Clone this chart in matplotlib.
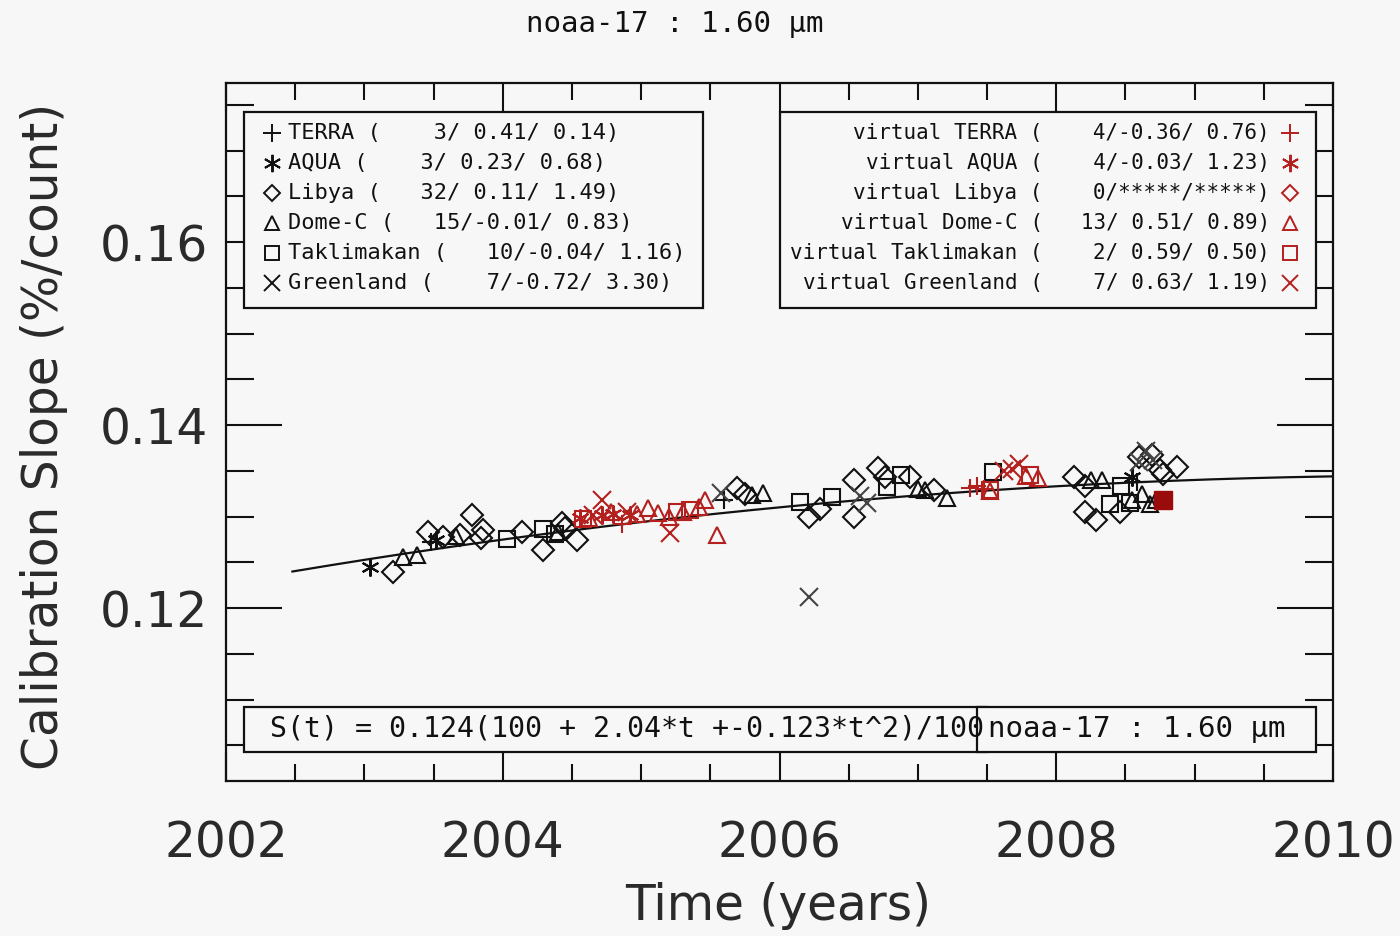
import numpy as np
import matplotlib
matplotlib.use('Agg')
import matplotlib.pyplot as plt
from matplotlib.patches import Rectangle
from matplotlib.ticker import MultipleLocator, FixedLocator

# ---------------- data ----------------
title_text = "noaa-17 : 1.60 \u00b5m"
eq_text = "S(t) = 0.124(100 + 2.04*t +-0.123*t^2)/100"
fit_scale = 0.124
fit_coef = [100.0, 2.04, -0.123]
fit_epoch = 2002.48
fit_end = 2010.0

x_ticks = [2002, 2004, 2006, 2008, 2010]
y_ticks = [0.12, 0.14, 0.16]
y_tick_labels = ["0.12", "0.14", "0.16"]

site_names = ["TERRA", "AQUA", "Libya", "Dome-C", "Taklimakan", "Greenland"]
site_stats = ["    3/ 0.41/ 0.14)", "    3/ 0.23/ 0.68)", "   32/ 0.11/ 1.49)",
              "   15/-0.01/ 0.83)", "   10/-0.04/ 1.16)", "    7/-0.72/ 3.30)"]
virt_stats = ["    4/-0.36/ 0.76)", "    4/-0.03/ 1.23)", "    0/*****/*****)",
              "   13/ 0.51/ 0.89)", "    2/ 0.59/ 0.50)", "    7/ 0.63/ 1.19)"]

terra_x = [2003.48, 2005.60, 2008.58]
terra_y = [0.1272, 0.1318, 0.1338]
aqua_x = [2003.04, 2003.52, 2008.55]
aqua_y = [0.1245, 0.1274, 0.1343]
libya_x = [2003.21, 2003.46, 2003.57, 2003.69, 2003.78, 2003.84, 2003.86, 2004.14,
           2004.29, 2004.43, 2004.45, 2004.54, 2005.69, 2005.75, 2006.21, 2006.29,
           2006.54, 2006.54, 2006.71, 2006.76, 2006.94, 2007.12, 2008.13, 2008.21,
           2008.21, 2008.29, 2008.46, 2008.60, 2008.69, 2008.75, 2008.77, 2008.87]
libya_y = [0.1239, 0.1283, 0.1278, 0.1280, 0.1302, 0.1277, 0.1285, 0.1283,
           0.1263, 0.1293, 0.1288, 0.1274, 0.1331, 0.1325, 0.1300, 0.1308,
           0.1340, 0.1300, 0.1353, 0.1343, 0.1343, 0.1329, 0.1343, 0.1334,
           0.1305, 0.1296, 0.1305, 0.1365, 0.1367, 0.1351, 0.1347, 0.1354]
domec_x = [2003.28, 2003.38, 2003.66, 2004.40, 2005.80, 2005.88, 2007.00, 2007.05,
           2007.21, 2008.25, 2008.33, 2008.55, 2008.62, 2008.68, 2008.72]
domec_y = [0.1256, 0.1258, 0.1279, 0.1283, 0.1324, 0.1326, 0.1330, 0.1329,
           0.1320, 0.1340, 0.1340, 0.1318, 0.1325, 0.1314, 0.1318]
takl_x = [2004.03, 2004.29, 2004.38, 2006.15, 2006.38, 2006.78, 2006.88, 2007.54,
          2008.39, 2008.47, 2008.53]
takl_y = [0.1276, 0.1286, 0.1281, 0.1316, 0.1321, 0.1332, 0.1346, 0.1349,
          0.1314, 0.1334, 0.1315]
green_x = [2005.58, 2006.21, 2006.58, 2006.63, 2008.60, 2008.65, 2008.70]
green_y = [0.1326, 0.1212, 0.1322, 0.1315, 0.1360, 0.1372, 0.1362]

vterra_x = [2004.86, 2007.38, 2007.43, 2007.48]
vterra_y = [0.1292, 0.1331, 0.1333, 0.1330]
vaqua_x = [2004.56, 2004.72, 2004.80, 2004.92]
vaqua_y = [0.1298, 0.1302, 0.1303, 0.1302]
vdome_x = [2004.62, 2004.78, 2004.97, 2005.05, 2005.12, 2005.20, 2005.30, 2005.42,
           2005.46, 2005.55, 2007.52, 2007.78, 2007.87]
vdome_y = [0.1298, 0.1305, 0.1303, 0.1309, 0.1304, 0.1300, 0.1305, 0.1310,
           0.1318, 0.1280, 0.1328, 0.1344, 0.1342]
vtakl_x = [2004.58, 2005.26, 2005.35, 2007.52, 2007.81]
vtakl_y = [0.1297, 0.1305, 0.1307, 0.1329, 0.1345]
vgreen_x = [2004.65, 2004.72, 2005.21, 2007.68, 2007.73, 2004.90, 2007.62]
vgreen_y = [0.1302, 0.1318, 0.1282, 0.1352, 0.1358, 0.1305, 0.1350]
latest_x = [2008.77]
latest_y = [0.1318]

# ---------------- style ----------------
W, H = 1400, 936
BG = '#f7f7f7'
RED = '#b3201e'
DARK = '#9a0c0c'
BLACK = '#111111'
GREY = '#444444'
MONO = 'DejaVu Sans Mono'

mk = {
    'TERRA': dict(marker='+', ms=13, mew=1.5),
    'AQUA': dict(marker=(6, 2, 0), ms=13, mew=1.5),
    'Libya': dict(marker='D', ms=11.5, mfc='none', mew=1.5),
    'Dome-C': dict(marker='^', ms=11, mfc='none', mew=1.5),
    'Taklimakan': dict(marker='s', ms=11, mfc='none', mew=1.5),
    'Greenland': dict(marker='x', ms=12.5, mew=1.5),
}
leg_ms = {'TERRA': 12.5, 'AQUA': 12.5, 'Libya': 8.5, 'Dome-C': 10,
          'Taklimakan': 10, 'Greenland': 12}

fig = plt.figure(figsize=(W / 100, H / 100), dpi=100, facecolor=BG)
ax = fig.add_axes([226 / W, 1 - 781 / H, 1107 / W, 698 / H], facecolor=BG)
ax.set_xlim(2002, 2010)
ax.set_ylim(0.1011, 0.1774)


def P(px, py):
    """reference pixel -> axes fraction"""
    return (px - 226) / 1107, (781 - py) / 698


# fit curve
t = np.linspace(0, fit_end - fit_epoch, 300)
s = fit_scale * (fit_coef[0] + fit_coef[1] * t + fit_coef[2] * t ** 2) / 100
ax.plot(fit_epoch + t, s, color=BLACK, lw=1.6, zorder=2)

series = [
    (terra_x, terra_y, 'TERRA', BLACK),
    (aqua_x, aqua_y, 'AQUA', BLACK),
    (libya_x, libya_y, 'Libya', BLACK),
    (domec_x, domec_y, 'Dome-C', BLACK),
    (takl_x, takl_y, 'Taklimakan', BLACK),
    (green_x, green_y, 'Greenland', GREY),
    (vterra_x, vterra_y, 'TERRA', RED),
    (vaqua_x, vaqua_y, 'AQUA', RED),
    (vdome_x, vdome_y, 'Dome-C', RED),
    (vtakl_x, vtakl_y, 'Taklimakan', RED),
    (vgreen_x, vgreen_y, 'Greenland', RED),
]
for xs, ys, name, col in series:
    ax.plot(xs, ys, ls='none', color=col, mec=col, zorder=3, **mk[name])
ax.plot(latest_x, latest_y, ls='none', marker='s', ms=12.5, color=DARK, mec=DARK, zorder=3)

# ticks
ax.xaxis.set_major_locator(FixedLocator(x_ticks))
ax.xaxis.set_minor_locator(MultipleLocator(0.5))
ax.yaxis.set_major_locator(FixedLocator(y_ticks))
ax.set_yticklabels(y_tick_labels)
ax.yaxis.set_minor_locator(MultipleLocator(0.005))
ax.set_xticklabels([str(v) for v in x_ticks])
ax.tick_params(axis='both', which='both', direction='in', top=True, right=True,
               color=BLACK, width=1.5)
ax.tick_params(axis='x', which='major', length=21, pad=28, labelsize=35, labelcolor='#2a2a2a')
ax.tick_params(axis='x', which='minor', length=12.5)
ax.tick_params(axis='y', which='major', length=40, pad=13, labelsize=35, labelcolor='#2a2a2a')
ax.tick_params(axis='y', which='minor', length=20)
for sp in ax.spines.values():
    sp.set_linewidth(1.6)
    sp.set_color(BLACK)

# axis labels and title
fig.text(778 / W, 1 - 906 / H, "Time (years)", ha='center', va='center', fontsize=35,
         color='#2a2a2a')
fig.text(44 / W, 1 - 436 / H, "Calibration Slope (%/count)", ha='center', va='center',
         rotation=90, fontsize=35, color='#2a2a2a')
fig.text(675 / W, 1 - 24 / H, title_text, ha='center', va='center', fontsize=21,
         family=MONO, color=BLACK)


def box(x0, y0, x1, y1):
    (ax0, ay1) = P(x0, y0)
    (ax1, ay0) = P(x1, y1)
    ax.add_patch(Rectangle((ax0, ay0), ax1 - ax0, ay1 - ay0, transform=ax.transAxes,
                           facecolor=BG, edgecolor=BLACK, lw=1.6, zorder=4, clip_on=False))


# legend boxes
box(244, 112, 703, 308)
box(780, 112, 1316, 308)
row_y = [133, 163, 193, 223, 253, 283]
for i, name in enumerate(site_names):
    st = dict(mk[name])
    st['ms'] = leg_ms[name]
    st['mew'] = 1.4
    mx, my = P(272, row_y[i])
    ax.plot([mx], [my], transform=ax.transAxes, ls='none', color=BLACK, mec=BLACK,
            zorder=5, clip_on=False, **st)
    tx, ty = P(288, row_y[i])
    ax.text(tx, ty, name + " (" + site_stats[i], transform=ax.transAxes, ha='left',
            va='center', fontsize=15.8, family=MONO, color=BLACK, zorder=5)
    rx, ry = P(1290, row_y[i])
    ax.plot([rx], [ry], transform=ax.transAxes, ls='none', color=RED, mec=RED,
            zorder=5, clip_on=False, **st)
    tx2, _ = P(1270, row_y[i])
    ax.text(tx2, ry, "virtual " + name + " (" + virt_stats[i], transform=ax.transAxes,
            ha='right', va='center', fontsize=15.0, family=MONO, color=BLACK, zorder=5)

# equation boxes
box(244, 707, 987, 752)
box(977, 707, 1316, 752)
ex, ey = P(270, 729)
ax.text(ex, ey, eq_text, transform=ax.transAxes, ha='left', va='center', fontsize=20.3,
        family=MONO, color=BLACK, zorder=6)
nx, _ = P(988, 729)
ax.text(nx, ey, title_text, transform=ax.transAxes, ha='left', va='center', fontsize=21,
        family=MONO, color=BLACK, zorder=6)

fig.savefig('out.png', dpi=100, facecolor=BG)
